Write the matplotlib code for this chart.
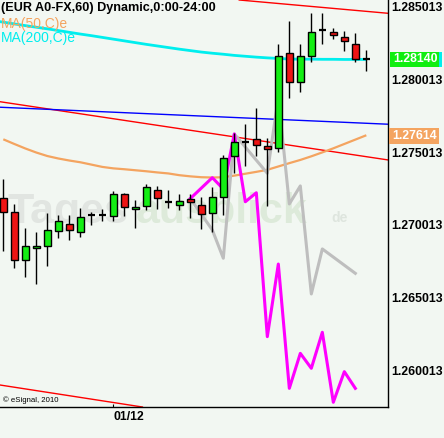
import matplotlib
matplotlib.use("Agg")
import matplotlib.pyplot as plt
import matplotlib.transforms as mtransforms
from matplotlib.patches import Rectangle
import numpy as np

# ---------------- data ----------------
title = "(EUR A0-FX,60) Dynamic,0:00-24:00"
ma50_name = "MA(50,C)e"
ma200_name = "MA(200,C)e"
copyright_txt = "\u00a9 eSignal, 2010"

opens = [1.27184, 1.27087, 1.26757, 1.26839, 1.26857, 1.26961, 1.27005, 1.26954, 1.27071, 1.27071,
         1.27064, 1.27211, 1.27108, 1.27133, 1.27239, 1.27160, 1.27140, 1.27179, 1.27136, 1.27081,
         1.27191, 1.27475, 1.27574, 1.27590, 1.27546, 1.27528, 1.28187, 1.27983, 1.28162, 1.28343,
         1.28327, 1.28293, 1.28247, 1.28145]
highs = [1.27317, 1.27145, 1.26979, 1.26952, 1.27081, 1.27067, 1.27067, 1.27117, 1.27090, 1.27110,
         1.27234, 1.27220, 1.27172, 1.27282, 1.27269, 1.27241, 1.27213, 1.27213, 1.27195, 1.27262,
         1.27482, 1.27632, 1.27696, 1.27808, 1.27601, 1.28244, 1.28405, 1.28244, 1.28458, 1.28458,
         1.28359, 1.28336, 1.28320, 1.28205]
lows = [1.26823, 1.26702, 1.26644, 1.26596, 1.26720, 1.26913, 1.26899, 1.26919, 1.27000, 1.27028,
        1.27030, 1.27062, 1.26979, 1.27103, 1.27112, 1.27119, 1.27103, 1.27048, 1.26970, 1.26954,
        1.27069, 1.27356, 1.27408, 1.27477, 1.27133, 1.27505, 1.27877, 1.27918, 1.28120, 1.28244,
        1.28281, 1.28198, 1.28120, 1.28063]
closes = [1.27092, 1.26757, 1.26855, 1.26855, 1.26963, 1.27028, 1.26963, 1.27053, 1.27071, 1.27071,
          1.27211, 1.27126, 1.27124, 1.27260, 1.27188, 1.27160, 1.27165, 1.27156, 1.27078, 1.27191,
          1.27459, 1.27570, 1.27574, 1.27549, 1.27523, 1.28164, 1.27983, 1.28164, 1.28327, 1.28343,
          1.28309, 1.28265, 1.28141, 1.28145]

ma200_x = list(range(-1, 34))
ma200 = [1.28408, 1.28397, 1.28385, 1.28373, 1.28362, 1.28351, 1.28339, 1.28327, 1.28315, 1.28304,
         1.28292, 1.28280, 1.28268, 1.28256, 1.28244, 1.28233, 1.28222, 1.28211, 1.28201, 1.28191,
         1.28183, 1.28176, 1.28168, 1.28162, 1.28156, 1.28151, 1.28147, 1.28143, 1.28142, 1.28142,
         1.28141, 1.28141, 1.28140, 1.28140, 1.28140]
ma50_x = list(range(0, 34))
ma50 = [1.27590, 1.27558, 1.27527, 1.27499, 1.27475, 1.27458, 1.27444, 1.27432, 1.27416, 1.27400,
        1.27390, 1.27384, 1.27377, 1.27370, 1.27362, 1.27355, 1.27343, 1.27335, 1.27329, 1.27327,
        1.27329, 1.27340, 1.27353, 1.27366, 1.27380, 1.27403, 1.27426, 1.27448, 1.27473, 1.27500,
        1.27528, 1.27558, 1.27588, 1.27618]

magenta_x = [17, 19, 20, 21, 22, 23, 24, 25, 26, 27, 28, 29, 30, 31, 32]
magenta_y = [1.27182, 1.27326, 1.27248, 1.27627, 1.27160, 1.27222, 1.26231, 1.26731, 1.25875,
             1.26116, 1.26013, 1.26261, 1.25779, 1.25990, 1.25875]
gray_x = [17, 19, 20, 21, 24, 25, 26, 27, 28, 29, 32]
gray_y = [1.27182, 1.26966, 1.26771, 1.27627, 1.27356, 1.27881, 1.27145, 1.27269, 1.26525,
          1.26835, 1.26667]

red_upper = [(21.52, 1.28549), (34.97, 1.28458)]
red_middle = [(-0.3, 1.27849), (34.97, 1.27448)]
red_lower = [(-0.3, 1.25898), (12.43, 1.25749)]
blue_line = [(-0.3, 1.27811), (34.97, 1.27694)]

y_ticks = [1.260013, 1.265013, 1.270013, 1.275013, 1.280013, 1.285013]
x_tick_pos = [10]
x_tick_labels = ["01/12"]

last_price = 1.28140
last_price_label = "1.28140"
ma50_last = 1.27614
ma50_last_label = "1.27614"

# ---------------- style ----------------
W, H = 444, 438
BG = "#F2F7F2"
GREEN = "#14EE14"
RED = "#EE1414"
CYAN = "#00EEEE"
ORANGE = "#F4A460"
MAGENTA = "#FF00FF"
GRAY = "#BEBEBE"
FONT = "Liberation Sans"

fig = plt.figure(figsize=(W / 100, H / 100), dpi=100, facecolor=BG)
ax_left, ax_right, ax_bottom_px = 0, 388, 407
ax = fig.add_axes([ax_left / W, (H - ax_bottom_px) / H, (ax_right - ax_left) / W, ax_bottom_px / H])
ax.set_facecolor(BG)
ax.set_xlim(-0.3, 34.97)
ax.set_ylim(1.257465, 1.285495)

def fx(px):
    return px / W

def fy(py):
    return 1 - py / H

# watermark
ax.text(fx(7), fy(223), "Tages", transform=fig.transFigure, fontsize=31, fontweight="bold",
        family=FONT, color="#E1E5E1", va="baseline", ha="left", zorder=0.2)
ax.text(fx(136), fy(223), "ausblick", transform=fig.transFigure, fontsize=31, fontweight="bold",
        family=FONT, color="#DDEADA", va="baseline", ha="left", zorder=0.2)
ax.text(fx(331), fy(222), "de", transform=fig.transFigure, fontsize=10, fontweight="bold",
        family=FONT, color="#DEE5DE", va="baseline", ha="left", zorder=0.2)

# trend lines
for pts, col in [(red_upper, "#FF0000"), (red_middle, "#FF0000"), (red_lower, "#FF0000"), (blue_line, "#0000FF")]:
    ax.axline(pts[0], pts[1], color=col, lw=1.0, zorder=1)

# moving averages
ax.plot(ma200_x, ma200, color=CYAN, lw=2.0, zorder=2, solid_capstyle="butt")
ax.plot(ma50_x, ma50, color=ORANGE, lw=1.6, zorder=2, solid_capstyle="butt")

# projections
ax.plot(gray_x, gray_y, color=GRAY, lw=2.2, zorder=2.5)
ax.plot(magenta_x, magenta_y, color=MAGENTA, lw=2.2, zorder=2.6)

# candles
idx = np.arange(len(opens))
o = np.array(opens); c = np.array(closes); h = np.array(highs); l = np.array(lows)
ax.vlines(idx, l, h, color="black", lw=1.0, zorder=3)
body_w = 0.6
for i in idx:
    if abs(c[i] - o[i]) < 1e-9:
        ax.hlines(o[i], i - body_w / 2, i + body_w / 2, color="black", lw=1.6, zorder=4)
    else:
        col = GREEN if c[i] > o[i] else RED
        ax.bar(i, abs(c[i] - o[i]), bottom=min(o[i], c[i]), width=body_w, color=col,
               edgecolor="black", linewidth=1.0, zorder=4)

# axes styling
for s in ["left", "top"]:
    ax.spines[s].set_visible(False)
for s in ["right", "bottom"]:
    ax.spines[s].set_color("black")
    ax.spines[s].set_linewidth(1.0)
ax.yaxis.tick_right()
ax.set_yticks(y_ticks)
ax.set_yticklabels([f"{v:.6f}" for v in y_ticks])
ax.tick_params(axis="y", length=0, pad=2)
ax.set_xticks(x_tick_pos)
ax.set_xticklabels(x_tick_labels)
ax.tick_params(axis="x", length=2, direction="in", pad=3)
for t in ax.get_yticklabels() + ax.get_xticklabels():
    t.set_fontfamily(FONT)
    t.set_fontweight("bold")
    t.set_fontsize(8.8)
    t.set_color("black")
for t in ax.get_xticklabels():
    t.set_ha("left")

# header texts
fig.text(fx(1), fy(8), title, fontsize=9.1, fontweight="bold", family=FONT, color="black",
         va="center", ha="left")
fig.text(fx(1), fy(24), ma50_name, fontsize=10, family=FONT, color=ORANGE, va="center", ha="left")
fig.text(fx(1), fy(38), ma200_name, fontsize=10, family=FONT, color=CYAN, va="center", ha="left")
ax.text(fx(3), fy(400), copyright_txt, transform=fig.transFigure, fontsize=5.6, family=FONT,
        color="black", va="center", ha="left", zorder=5)

# price labels
blend = mtransforms.blended_transform_factory(fig.transFigure, ax.transData)
dy_px = (ax.get_ylim()[1] - ax.get_ylim()[0]) / ax_bottom_px
def price_box(val, text, color, x0, x1, strip=None):
    hgt = 15.5 * dy_px
    fig.add_artist(Rectangle((fx(x0), val - hgt / 2), fx(x1) - fx(x0), hgt, transform=blend,
                             facecolor=color, edgecolor="none", zorder=5))
    if strip is not None:
        fig.add_artist(Rectangle((fx(x1), val - hgt / 2), fx(3), hgt, transform=blend,
                                 facecolor=strip, edgecolor="none", zorder=5))
    fig.text((fx(x0) + fx(x1)) / 2 + fx(1), val, text, transform=blend, fontsize=8.8,
             fontweight="bold", family=FONT, color="white", ha="center", va="center", zorder=6)

price_box(last_price, last_price_label, "#10EE10", 390, 439, strip=CYAN)
price_box(ma50_last, ma50_last_label, ORANGE, 389, 439)

fig.savefig("out.png", dpi=100, facecolor=BG)
